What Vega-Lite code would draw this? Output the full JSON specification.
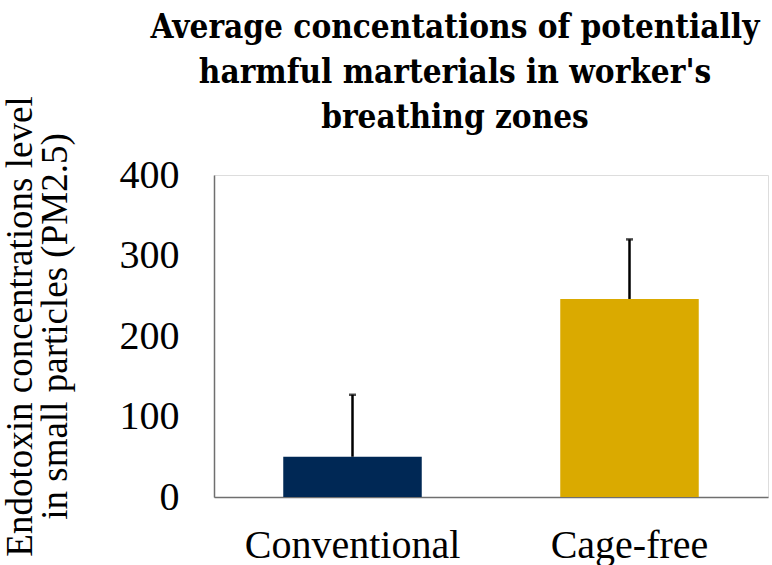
{
  "$schema": "https://vega.github.io/schema/vega-lite/v6.json",
  "width": 554,
  "height": 322,
  "autosize": {"type": "none"},
  "padding": {"left": 214, "top": 175, "right": 4, "bottom": 68},
  "background": "white",
  "config": {"font": "Liberation Serif"},
  "title": {
    "text": ["Average concentations of potentially", "harmful marterials in worker's", "breathing zones"],
    "font": "'DejaVu Serif Condensed', 'DejaVu Serif'",
    "fontSize": 33,
    "fontWeight": "bold",
    "color": "black",
    "anchor": "middle",
    "dx": -36,
    "lineHeight": 45,
    "offset": -39
  },
  "data": {
    "values": [
      {"system": "Conventional", "mean": 50, "upper": 127},
      {"system": "Cage-free", "mean": 246, "upper": 320}
    ]
  },
  "encoding": {
    "x": {
      "field": "system",
      "type": "nominal",
      "sort": ["Conventional", "Cage-free"],
      "scale": {"paddingInner": 0.5, "paddingOuter": 0.25},
      "axis": {
        "title": null,
        "labelAngle": 0,
        "labelFont": "Liberation Serif",
        "labelFontSize": 40,
        "labelLimit": 0,
        "labelColor": "black",
        "labelPadding": 28,
        "ticks": false,
        "domainColor": "#6f6f6f",
        "domainWidth": 1.5
      }
    }
  },
  "layer": [
    {
      "mark": {"type": "bar"},
      "encoding": {
        "y": {
          "field": "mean",
          "type": "quantitative",
          "scale": {"domain": [0, 400]},
          "axis": {
            "values": [0, 100, 200, 300, 400],
            "grid": false,
            "ticks": false,
            "labelFont": "Liberation Serif",
            "labelFontSize": 40,
            "labelColor": "black",
            "labelPadding": 35,
            "domainColor": "#6f6f6f",
            "domainWidth": 1.5,
            "title": ["Endotoxin concentrations level", "in small particles (PM2.5)"],
            "titleFont": "Liberation Serif",
            "titleFontSize": 37,
            "titleFontWeight": "normal",
            "titleColor": "black",
            "titleLineHeight": 35,
            "titleX": -194,
            "titleY": 151,
            "titleAngle": -90,
            "titleBaseline": "middle"
          }
        },
        "color": {
          "field": "system",
          "type": "nominal",
          "scale": {"domain": ["Conventional", "Cage-free"], "range": ["#002855", "#DAAA00"]},
          "legend": null
        }
      }
    },
    {
      "mark": {"type": "rule", "color": "black", "strokeWidth": 2.5},
      "encoding": {
        "y": {"field": "mean", "type": "quantitative"},
        "y2": {"field": "upper"}
      }
    },
    {
      "mark": {"type": "tick", "color": "black", "size": 7, "thickness": 2.5, "orient": "horizontal"},
      "encoding": {
        "y": {"field": "upper", "type": "quantitative"}
      }
    }
  ]
}
